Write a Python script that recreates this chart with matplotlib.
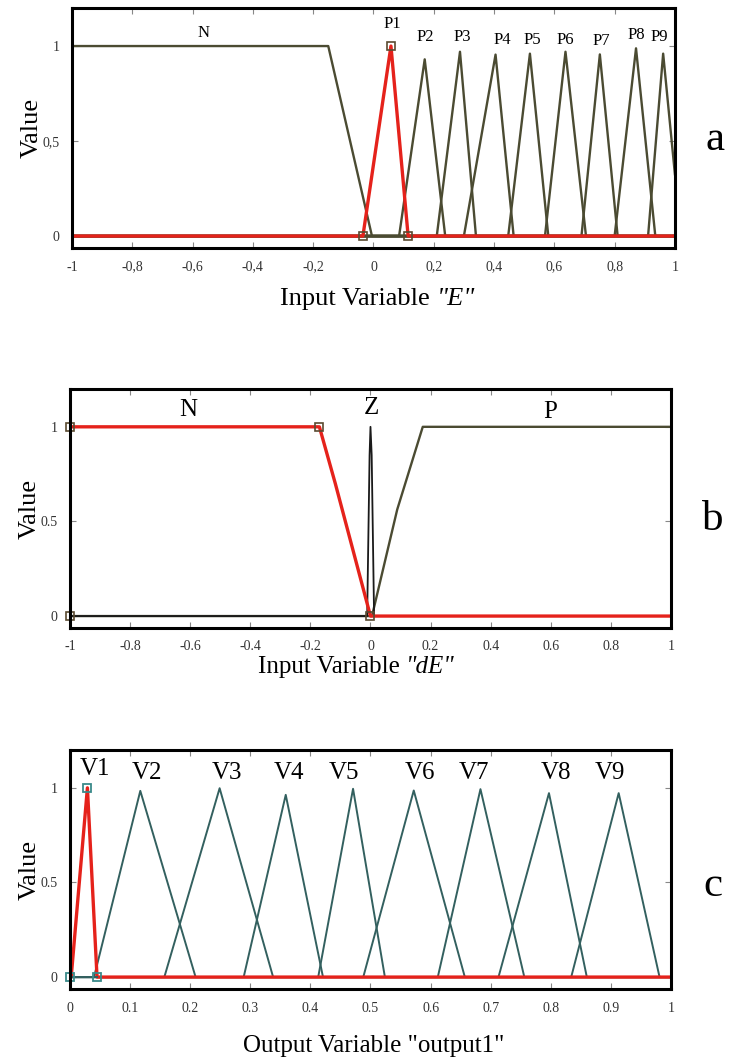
import numpy as np
import matplotlib
matplotlib.use("Agg")
from matplotlib import pyplot as plt

OLIVE = "#4b4b32"
TEAL = "#33605f"
RED = "#e5221b"

# ---- panel a: input variable E ----
e_n_shape = [-1.0, -0.15, -0.005]          # flat until, falls to 0 at
e_p1 = [-0.035, 0.058, 0.115, 1.0]          # red (selected) MF
e_tri_names = ["P2", "P3", "P4", "P5", "P6", "P7", "P8", "P9"]
e_tri_left = [0.085, 0.21, 0.30, 0.447, 0.569, 0.69, 0.80, 0.911]
e_tri_peak = [0.170, 0.287, 0.405, 0.519, 0.637, 0.751, 0.871, 0.961]
e_tri_right = [0.238, 0.34, 0.465, 0.58, 0.705, 0.81, 0.935, 1.02]
e_tri_height = [0.93, 0.97, 0.955, 0.96, 0.97, 0.956, 0.988, 0.96]
e_label_names = ["N", "P1", "P2", "P3", "P4", "P5", "P6", "P7", "P8", "P9"]
e_label_x = [-0.565, 0.061, 0.173, 0.296, 0.427, 0.528, 0.638, 0.755, 0.872, 0.949]
e_label_y = [1.07, 1.115, 1.045, 1.05, 1.03, 1.03, 1.03, 1.025, 1.06, 1.05]
e_ticks = [-1, -0.8, -0.6, -0.4, -0.2, 0, 0.2, 0.4, 0.6, 0.8, 1]
e_ticklabels = ["-1", "-0,8", "-0,6", "-0,4", "-0,2", "0", "0,2", "0,4", "0,6", "0,8", "1"]

# ---- panel b: input variable dE ----
de_n_x = [-1.0, -0.17, -0.117, 0.0, 1.0]
de_n_y = [1.0, 1.0, 0.70, 0.0, 0.0]
de_z_x = [-1.0, -0.011, -0.003, 0.0, 0.004, 0.012, 1.0]
de_z_y = [0.0, 0.0, 0.85, 1.0, 0.85, 0.0, 0.0]
de_p_x = [-1.0, 0.005, 0.089, 0.174, 1.0]
de_p_y = [0.0, 0.0, 0.563, 1.0, 1.0]
de_label_names = ["N", "Z", "P"]
de_label_x = [-0.605, 0.004, 0.597]
de_label_y = [1.09, 1.10, 1.08]
de_ticklabels = ["-1", "-0.8", "-0.6", "-0.4", "-0.2", "0", "0.2", "0.4", "0.6", "0.8", "1"]

# ---- panel c: output variable ----
o_v1 = [0.002, 0.029, 0.045, 1.0]
o_tri_left = [0.040, 0.157, 0.289, 0.413, 0.488, 0.612, 0.713, 0.834]
o_tri_peak = [0.117, 0.249, 0.359, 0.471, 0.572, 0.683, 0.797, 0.913]
o_tri_right = [0.209, 0.338, 0.421, 0.524, 0.657, 0.756, 0.860, 0.981]
o_tri_height = [0.984, 0.998, 0.963, 0.995, 0.986, 0.993, 0.972, 0.972]
o_label_names = ["V1", "V2", "V3", "V4", "V5", "V6", "V7", "V8", "V9"]
o_label_x = [0.042, 0.128, 0.262, 0.364, 0.456, 0.582, 0.672, 0.808, 0.899]
o_label_y = [1.10, 1.08, 1.08, 1.08, 1.08, 1.08, 1.08, 1.08, 1.08]
o_ticks = [0, 0.1, 0.2, 0.3, 0.4, 0.5, 0.6, 0.7, 0.8, 0.9, 1]
o_ticklabels = ["0", "0.1", "0.2", "0.3", "0.4", "0.5", "0.6", "0.7", "0.8", "0.9", "1"]

plt.rcParams["font.family"] = ["Liberation Serif", "DejaVu Serif"]


def tri(x, a, b, c, h):
    return h * np.interp(x, [a, b, c], [0, 1, 0], left=0, right=0)


def style_axes(ax, xlim, xticks, xticklabels, yticklabels):
    ax.set_xlim(*xlim)
    ax.set_ylim(-0.063, 1.2)
    ax.set_xticks(xticks)
    ax.set_xticklabels(xticklabels)
    ax.set_yticks([0, 0.5, 1])
    ax.set_yticklabels(yticklabels)
    ax.tick_params(direction="in", top=True, right=True, length=4, width=0.8,
                   color="#888888", labelsize=10, labelcolor="#333333", pad=9)
    for s in ax.spines.values():
        s.set_linewidth(2.2)
        s.set_color("black")
    ax.set_ylabel("Value", fontsize=19, labelpad=0)


def mixed_xlabel(fig, x0, y, plain, ital, size):
    # plain part followed by an italic part on the same baseline
    t1 = fig.text(x0, y, plain + " ", fontsize=size, ha="left", va="bottom")
    plt.annotate(ital, xy=(1, 0), xycoords=t1, fontsize=size, style="italic",
                 ha="left", va="bottom", annotation_clip=False)


fig = plt.figure(figsize=(7.29, 10.59), dpi=100)

# panel a
ax = fig.add_axes([0.0988, 0.7658, 0.827, 0.2266])
x = np.linspace(-1, 1, 4001)
n_y = np.interp(x, [e_n_shape[0], e_n_shape[1], e_n_shape[2]], [1, 1, 0], left=1, right=0)
ax.plot(x, n_y, color=OLIVE, lw=1.7)
for a, b, c, h in zip(e_tri_left, e_tri_peak, e_tri_right, e_tri_height):
    ax.plot(x, tri(x, a, b, c, h), color=OLIVE, lw=1.7)
ax.plot(x, tri(x, *e_p1), color=RED, lw=2.4)
ax.plot([e_p1[0], e_p1[1], e_p1[2]], [0, e_p1[3], 0], ls="none", marker="s",
        ms=6, mfc="none", mec="#5a4a30", mew=1.2, clip_on=False)
for name, lx, ly in zip(e_label_names, e_label_x, e_label_y):
    ax.text(lx, ly, name, ha="center", va="center", fontsize=12)
style_axes(ax, (-1, 1), e_ticks, e_ticklabels, ["0", "0,5", "1"])
mixed_xlabel(fig, 280 / 729, 1 - 310 / 1059, "Input Variable", '"E"', 19)
fig.text(0.981, 0.868, "a", fontsize=31, ha="center", va="center")

# panel b
ax = fig.add_axes([0.096, 0.407, 0.8244, 0.2257])
ax.plot(de_p_x, de_p_y, color=OLIVE, lw=1.7)
ax.plot(de_z_x, de_z_y, color="#1a1a1a", lw=1.3)
ax.plot(de_n_x, de_n_y, color=RED, lw=2.4)
ax.plot([de_n_x[0], de_n_x[0], de_n_x[1], de_n_x[3]], [0, 1, 1, 0], ls="none",
        marker="s", ms=6, mfc="none", mec="#5a4a30", mew=1.2, clip_on=False)
for name, lx, ly in zip(de_label_names, de_label_x, de_label_y):
    ax.text(lx, ly, name, ha="center", va="center", fontsize=18)
style_axes(ax, (-1, 1), e_ticks, de_ticklabels, ["0", "0.5", "1"])
mixed_xlabel(fig, 258 / 729, 1 - 678 / 1059, "Input Variable", '"dE"', 18)
fig.text(0.978, 0.509, "b", fontsize=31, ha="center", va="center")

# panel c
ax = fig.add_axes([0.096, 0.0661, 0.8244, 0.2257])
x = np.linspace(0, 1, 4001)
for a, b, c, h in zip(o_tri_left, o_tri_peak, o_tri_right, o_tri_height):
    ax.plot(x, tri(x, a, b, c, h), color=TEAL, lw=1.4)
ax.plot(x, tri(x, *o_v1), color=RED, lw=2.4)
ax.plot([0, o_v1[2]], [0, 0], color=TEAL, lw=1.4)
ax.plot([0, o_v1[1], o_v1[2]], [0, o_v1[3], 0], ls="none", marker="s",
        ms=6, mfc="none", mec="#3a8a8a", mew=1.3, clip_on=False)
for name, lx, ly in zip(o_label_names, o_label_x, o_label_y):
    ax.text(lx, ly, name, ha="center", va="center", fontsize=18)
style_axes(ax, (0, 1), o_ticks, o_ticklabels, ["0", "0.5", "1"])
fig.text(374 / 729, 1 - 1052 / 1059, 'Output Variable "output1"', fontsize=18,
         ha="center", va="baseline")
fig.text(0.978, 0.164, "c", fontsize=31, ha="center", va="center")

fig.savefig("out.png", dpi=100)
